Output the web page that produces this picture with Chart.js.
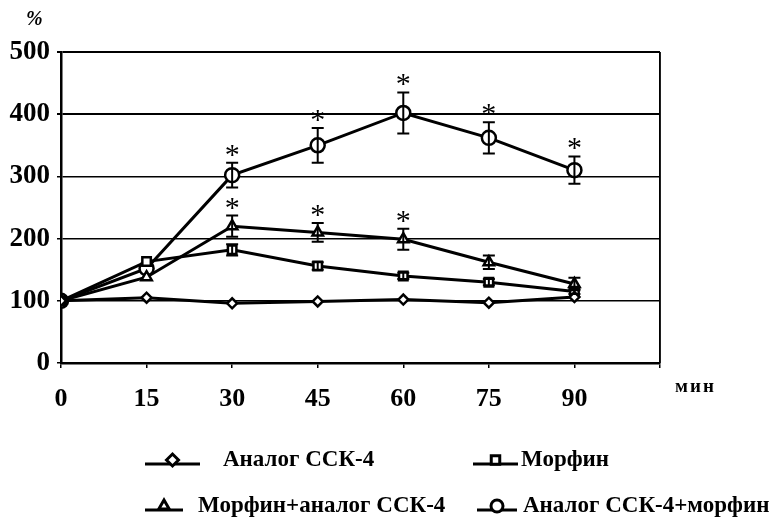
<!DOCTYPE html>
<html>
<head>
<meta charset="utf-8">
<script src="https://cdn.jsdelivr.net/npm/chart.js@4/dist/chart.umd.min.js"></script>
<style>
  body { margin: 0; background: #fff; }
  #wrap { position: relative; width: 773px; height: 520px; }
</style>
</head>
<body>
<div id="wrap"><canvas id="chart" width="773" height="520"></canvas></div>
<script>
// time points, minutes
const minutes = [0, 15, 30, 45, 60, 75, 90];
const yTicks = [0, 100, 200, 300, 400, 500];

const labels = ['Аналог ССК-4', 'Морфин', 'Морфин+аналог ССК-4', 'Аналог ССК-4+морфин'];

// values in %
const analog = [100, 105, 96, 99, 102, 97, 106];
const morphine = [100, 163, 182, 156, 140, 130, 115];
const morphAnalog = [100, 138, 220, 210, 199, 162, 127];
const analogMorph = [100, 152, 302, 350, 402, 362, 310];

// error bars (+/-)
const analogErr = [0, 0, 0, 0, 0, 0, 0];
const morphineErr = [0, 0, 9, 6, 5, 5, 4];
const morphAnalogErr = [0, 0, 17, 15, 17, 11, 10];
const analogMorphErr = [0, 0, 20, 28, 33, 25, 22];

// significance marks (*)
const analogStar = [0, 0, 0, 0, 0, 0, 0];
const morphineStar = [0, 0, 0, 0, 0, 0, 0];
const morphAnalogStar = [0, 0, 1, 1, 1, 0, 0];
const analogMorphStar = [0, 0, 1, 1, 1, 1, 1];

const styles = ['rectRot', 'rect', 'triangle', 'circle'];
const radii = [5, 6, 6, 7];
const series = [analog, morphine, morphAnalog, analogMorph];
const errs = [analogErr, morphineErr, morphAnalogErr, analogMorphErr];
const stars = [analogStar, morphineStar, morphAnalogStar, analogMorphStar];

const serif = '"Liberation Serif", "DejaVu Serif", serif';

const datasets = series.map((vals, i) => ({
    label: labels[i],
    data: vals.map((v, j) => ({ x: minutes[j], y: v })),
    err: errs[i],
    star: stars[i],
    borderColor: '#000',
    borderWidth: 3,
    pointStyle: styles[i],
    pointRadius: radii[i],
    pointBorderWidth: 2.5,
    pointBackgroundColor: '#fff',
    pointBorderColor: '#000',
    tension: 0,
    fill: false
}));

// error bars + asterisks
const extras = {
    id: 'extras',
    afterDatasetsDraw(chart) {
        const ctx = chart.ctx;
        const xs = chart.scales.x, ys = chart.scales.y;
        ctx.save();
        ctx.strokeStyle = '#000';
        ctx.lineWidth = 2;
        chart.data.datasets.forEach(ds => {
            ds.data.forEach((p, j) => {
                const e = ds.err[j];
                const x = xs.getPixelForValue(p.x);
                const yTop = ys.getPixelForValue(p.y + e);
                if (e > 0) {
                    const yBot = ys.getPixelForValue(p.y - e);
                    ctx.beginPath();
                    ctx.moveTo(x, yTop); ctx.lineTo(x, yBot);
                    ctx.moveTo(x - 6, yTop); ctx.lineTo(x + 6, yTop);
                    ctx.moveTo(x - 6, yBot); ctx.lineTo(x + 6, yBot);
                    ctx.stroke();
                }
                if (ds.star[j]) {
                    ctx.fillStyle = '#000';
                    ctx.font = '30px ' + serif;
                    ctx.textAlign = 'center';
                    ctx.textBaseline = 'alphabetic';
                    ctx.fillText('*', x, yTop + 1);
                }
            });
        });
        // right frame
        const a = chart.chartArea;
        ctx.lineWidth = 1.5;
        ctx.beginPath();
        ctx.moveTo(a.right, a.top); ctx.lineTo(a.right, a.bottom);
        ctx.stroke();
        // axis captions
        ctx.fillStyle = '#000';
        ctx.textAlign = 'left';
        ctx.textBaseline = 'middle';
        ctx.font = 'italic bold 20px ' + serif;
        ctx.fillText('%', 26, 20);
        ctx.font = 'bold 19px ' + serif;
        ctx.letterSpacing = '2px';
        ctx.fillText('мин', 675, 387);
        ctx.restore();
    }
};

// two-row legend at the bottom
const legend2 = {
    id: 'legend2',
    afterDraw(chart) {
        const ctx = chart.ctx;
        const spots = [
            { x: 145, w: 55, y: 464, tx: 223 },
            { x: 473, w: 45, y: 464, tx: 521 },
            { x: 145, w: 38, y: 510, tx: 198 },
            { x: 477, w: 40, y: 510, tx: 523 }
        ];
        ctx.save();
        chart.data.datasets.forEach((ds, i) => {
            const s = spots[i];
            ctx.strokeStyle = '#000';
            ctx.lineWidth = 3;
            ctx.beginPath();
            ctx.moveTo(s.x, s.y); ctx.lineTo(s.x + s.w, s.y);
            ctx.stroke();
            ctx.fillStyle = '#fff';
            Chart.helpers.drawPoint(ctx, { pointStyle: ds.pointStyle, radius: 6, borderWidth: 2.5 }, s.x + s.w / 2, s.y - 4);
            ctx.fillStyle = '#000';
            ctx.font = 'bold 23px ' + serif;
            ctx.textAlign = 'left';
            ctx.textBaseline = 'middle';
            ctx.fillText(ds.label, s.tx, s.y - 4);
        });
        ctx.restore();
    }
};

new Chart(document.getElementById('chart'), {
    type: 'line',
    data: { datasets },
    options: {
        responsive: false,
        animation: false,
        layout: { padding: { top: 52, right: 113, bottom: 100, left: 0 } },
        plugins: { legend: { display: false }, tooltip: { enabled: false } },
        scales: {
            x: {
                type: 'linear',
                min: 0,
                max: 105,
                afterFit: s => { s.height = 57; },
                afterBuildTicks: s => { s.ticks = minutes.concat([105]).map(v => ({ value: v })); },
                ticks: {
                    color: '#000',
                    font: { family: serif, size: 26, weight: 'bold' },
                    padding: 16,
                    maxRotation: 0,
                    callback: v => (v === 105 ? '' : v)
                },
                grid: {
                    color: c => (c.tick && c.tick.value === 105 ? '#000' : 'rgba(0,0,0,0)'),
                    tickColor: '#000',
                    tickLength: 5,
                    lineWidth: 1.5
                },
                border: { color: '#000', width: 2.5 }
            },
            y: {
                min: 0,
                max: 500,
                afterFit: s => { s.width = 61; },
                afterBuildTicks: s => { s.ticks = yTicks.map(v => ({ value: v })); },
                ticks: {
                    color: '#000',
                    font: { family: serif, size: 27, weight: 'bold' },
                    padding: 7
                },
                grid: {
                    color: '#000',
                    lineWidth: c => (c.tick && (c.tick.value === 500 || c.tick.value === 400) ? 2 : 1.5),
                    tickLength: 4
                },
                border: { color: '#000', width: 2.5 }
            }
        }
    },
    plugins: [extras, legend2]
});
</script>
</body>
</html>
